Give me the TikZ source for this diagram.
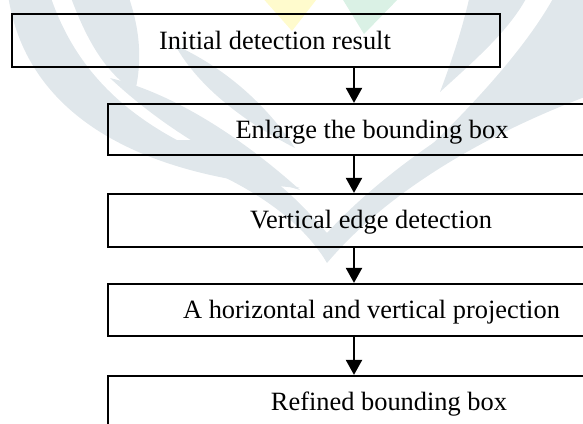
\documentclass[tikz,border=0pt]{standalone}
\usepackage{fontspec}
\setmainfont{Liberation Serif}
\usetikzlibrary{arrows.meta,positioning}
\definecolor{wmgray}{RGB}{224,231,235}
\definecolor{wmyellow}{RGB}{255,251,205}
\definecolor{wmgreen}{RGB}{218,241,229}

\begin{document}
\begin{tikzpicture}[x=0.5pt,y=-0.5pt,>={Triangle[length=7.5pt,width=8pt]},
  stepbox/.style={draw,line width=1.1pt,inner sep=0pt,minimum width=246pt,minimum height=26pt},
  steptext/.style={anchor=base,inner sep=0pt,font=\fontsize{13.2}{15}\selectfont},
  flow/.style={->,line width=1.1pt}]
\useasboundingbox (0,0) rectangle (583,423);
\clip (0,0) rectangle (583,423);
% faint logo in the background
\fill[wmyellow] (260,-5) -- (320,-5) -- (292,31) -- cycle;
\fill[wmgreen] (340,-5) -- (402,-5) -- (364,34) -- cycle;
\fill[wmgray] (8,-5) .. controls (25,110) and (130,175) .. (300,188) .. controls (170,150) and (85,100) .. (50,-5) -- cycle;
\fill[wmgray] (70,-5) .. controls (90,50) and (110,75) .. (135,92) .. controls (145,50) and (135,15) .. (128,-5) -- cycle;
\fill[wmgray] (110,78) .. controls (180,95) and (250,145) .. (300,190) .. controls (230,170) and (160,125) .. (110,78) -- cycle;
\fill[wmgray] (175,45) .. controls (230,70) and (270,110) .. (295,148) .. controls (250,125) and (200,90) .. (175,45) -- cycle;
\fill[wmgray] (123,140) .. controls (200,160) and (290,200) .. (327,263)
  .. controls (380,200) and (470,140) .. (590,95) -- (590,55)
  .. controls (470,110) and (380,175) .. (327,233)
  .. controls (290,190) and (250,155) .. (200,140) -- cycle;
\fill[wmgray] (600,-5) -- (600,60) .. controls (520,120) and (450,160) .. (380,192) .. controls (440,140) and (520,60) .. (555,-5) -- cycle;
\fill[wmgray] (470,-5) .. controls (462,30) and (452,60) .. (440,92) .. controls (475,60) and (510,30) .. (528,-5) -- cycle;
% flow boxes
\node[stepbox,minimum width=244pt,minimum height=26.5pt] (init) at (256,40.5) {};
\node[stepbox,minimum height=25.5pt] (enlarge) at (354,129.5) {};
\node[stepbox,minimum height=26.5pt] (vedge) at (354,220.5) {};
\node[stepbox] (proj) at (354,310) {};
\node[stepbox] (refined) at (354,402) {};
% box texts
\node[steptext] (initT) at (275,49) {Initial detection result};
\node[steptext] (enlargeT) at (372,138) {Enlarge the bounding box};
\node[steptext] (vedgeT) at (371,228) {Vertical edge detection};
\node[steptext] (projT) at (371.5,318) {A horizontal and vertical projection};
\node[steptext] (refinedT) at (389,410) {Refined bounding box};
% arrows
\coordinate (axis) at (354,0);
\draw[flow] (init.south -| axis) -- (enlarge.north -| axis);
\draw[flow] (enlarge.south -| axis) -- (vedge.north -| axis);
\draw[flow] (vedge.south -| axis) -- (proj.north -| axis);
\draw[flow] (proj.south -| axis) -- (refined.north -| axis);
\end{tikzpicture}
\end{document}
